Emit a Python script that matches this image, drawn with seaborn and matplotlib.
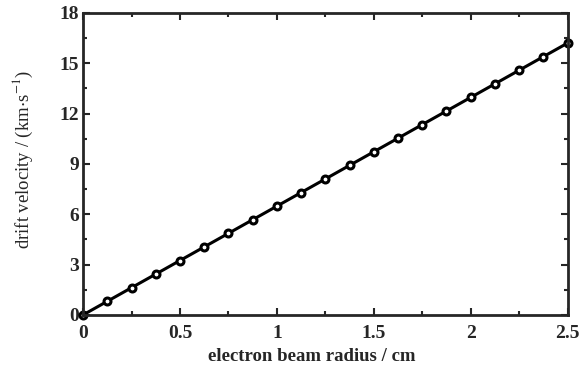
import numpy as np
import pandas as pd
import matplotlib
matplotlib.use("Agg")
import matplotlib.pyplot as plt
import seaborn as sns
from matplotlib.ticker import MultipleLocator

# ── DATA ────────────────────────────────────────────────────────────
radius = [0, 0.125, 0.25, 0.375, 0.5, 0.625, 0.75, 0.875, 1.0, 1.125, 1.25,
          1.375, 1.5, 1.625, 1.75, 1.875, 2.0, 2.125, 2.25, 2.375, 2.5]
velocity = [0, 0.81, 1.62, 2.43, 3.24, 4.05, 4.86, 5.67, 6.48, 7.29, 8.10,
            8.91, 9.72, 10.53, 11.34, 12.15, 12.96, 13.77, 14.58, 15.39, 16.20]
x_ticks = [0, 0.5, 1, 1.5, 2, 2.5]
x_ticklabels = ["0", "0.5", "1", "1.5", "2", "2.5"]
y_ticks = [0, 3, 6, 9, 12, 15, 18]

df = pd.DataFrame({"r": radius, "v": velocity})

sns.set_style("ticks")
plt.rcParams["font.family"] = ["Liberation Serif", "DejaVu Serif"]
plt.rcParams["mathtext.fontset"] = "stix"

fig, ax = plt.subplots(figsize=(5.81, 3.67), dpi=100)
fig.subplots_adjust(left=0.143, right=0.977, top=0.965, bottom=0.142)

sns.lineplot(data=df, x="r", y="v", ax=ax, color="black", linewidth=2.2,
             marker="o", markersize=5, markerfacecolor="white",
             markeredgecolor="black", markeredgewidth=2.2, clip_on=False)

ax.set_xlim(0, 2.5)
ax.set_ylim(0, 18)
ax.set_xticks(x_ticks)
ax.set_xticklabels(x_ticklabels)
ax.set_yticks(y_ticks)
ax.xaxis.set_minor_locator(MultipleLocator(0.25))
ax.yaxis.set_minor_locator(MultipleLocator(1.5))
ax.tick_params(which="both", direction="in", top=True, right=True,
               labelsize=14, width=1.5)
ax.tick_params(axis="x", pad=7)
ax.tick_params(axis="y", pad=3)
ax.tick_params(which="major", length=5)
ax.tick_params(which="minor", length=3)
for lbl in ax.get_xticklabels() + ax.get_yticklabels():
    lbl.set_fontweight("bold")
for s in ax.spines.values():
    s.set_linewidth(2.0)

ax.set_xlabel("electron beam radius / cm", fontsize=13.5, fontweight="bold")
ax.set_ylabel(r"drift velocity / (km$\cdot$s$^{-1}$)", fontsize=13.5)
ax.xaxis.set_label_coords(0.472, -0.109)
ax.yaxis.set_label_coords(-0.1, 0.513)

plt.savefig("out.png", dpi=100)
